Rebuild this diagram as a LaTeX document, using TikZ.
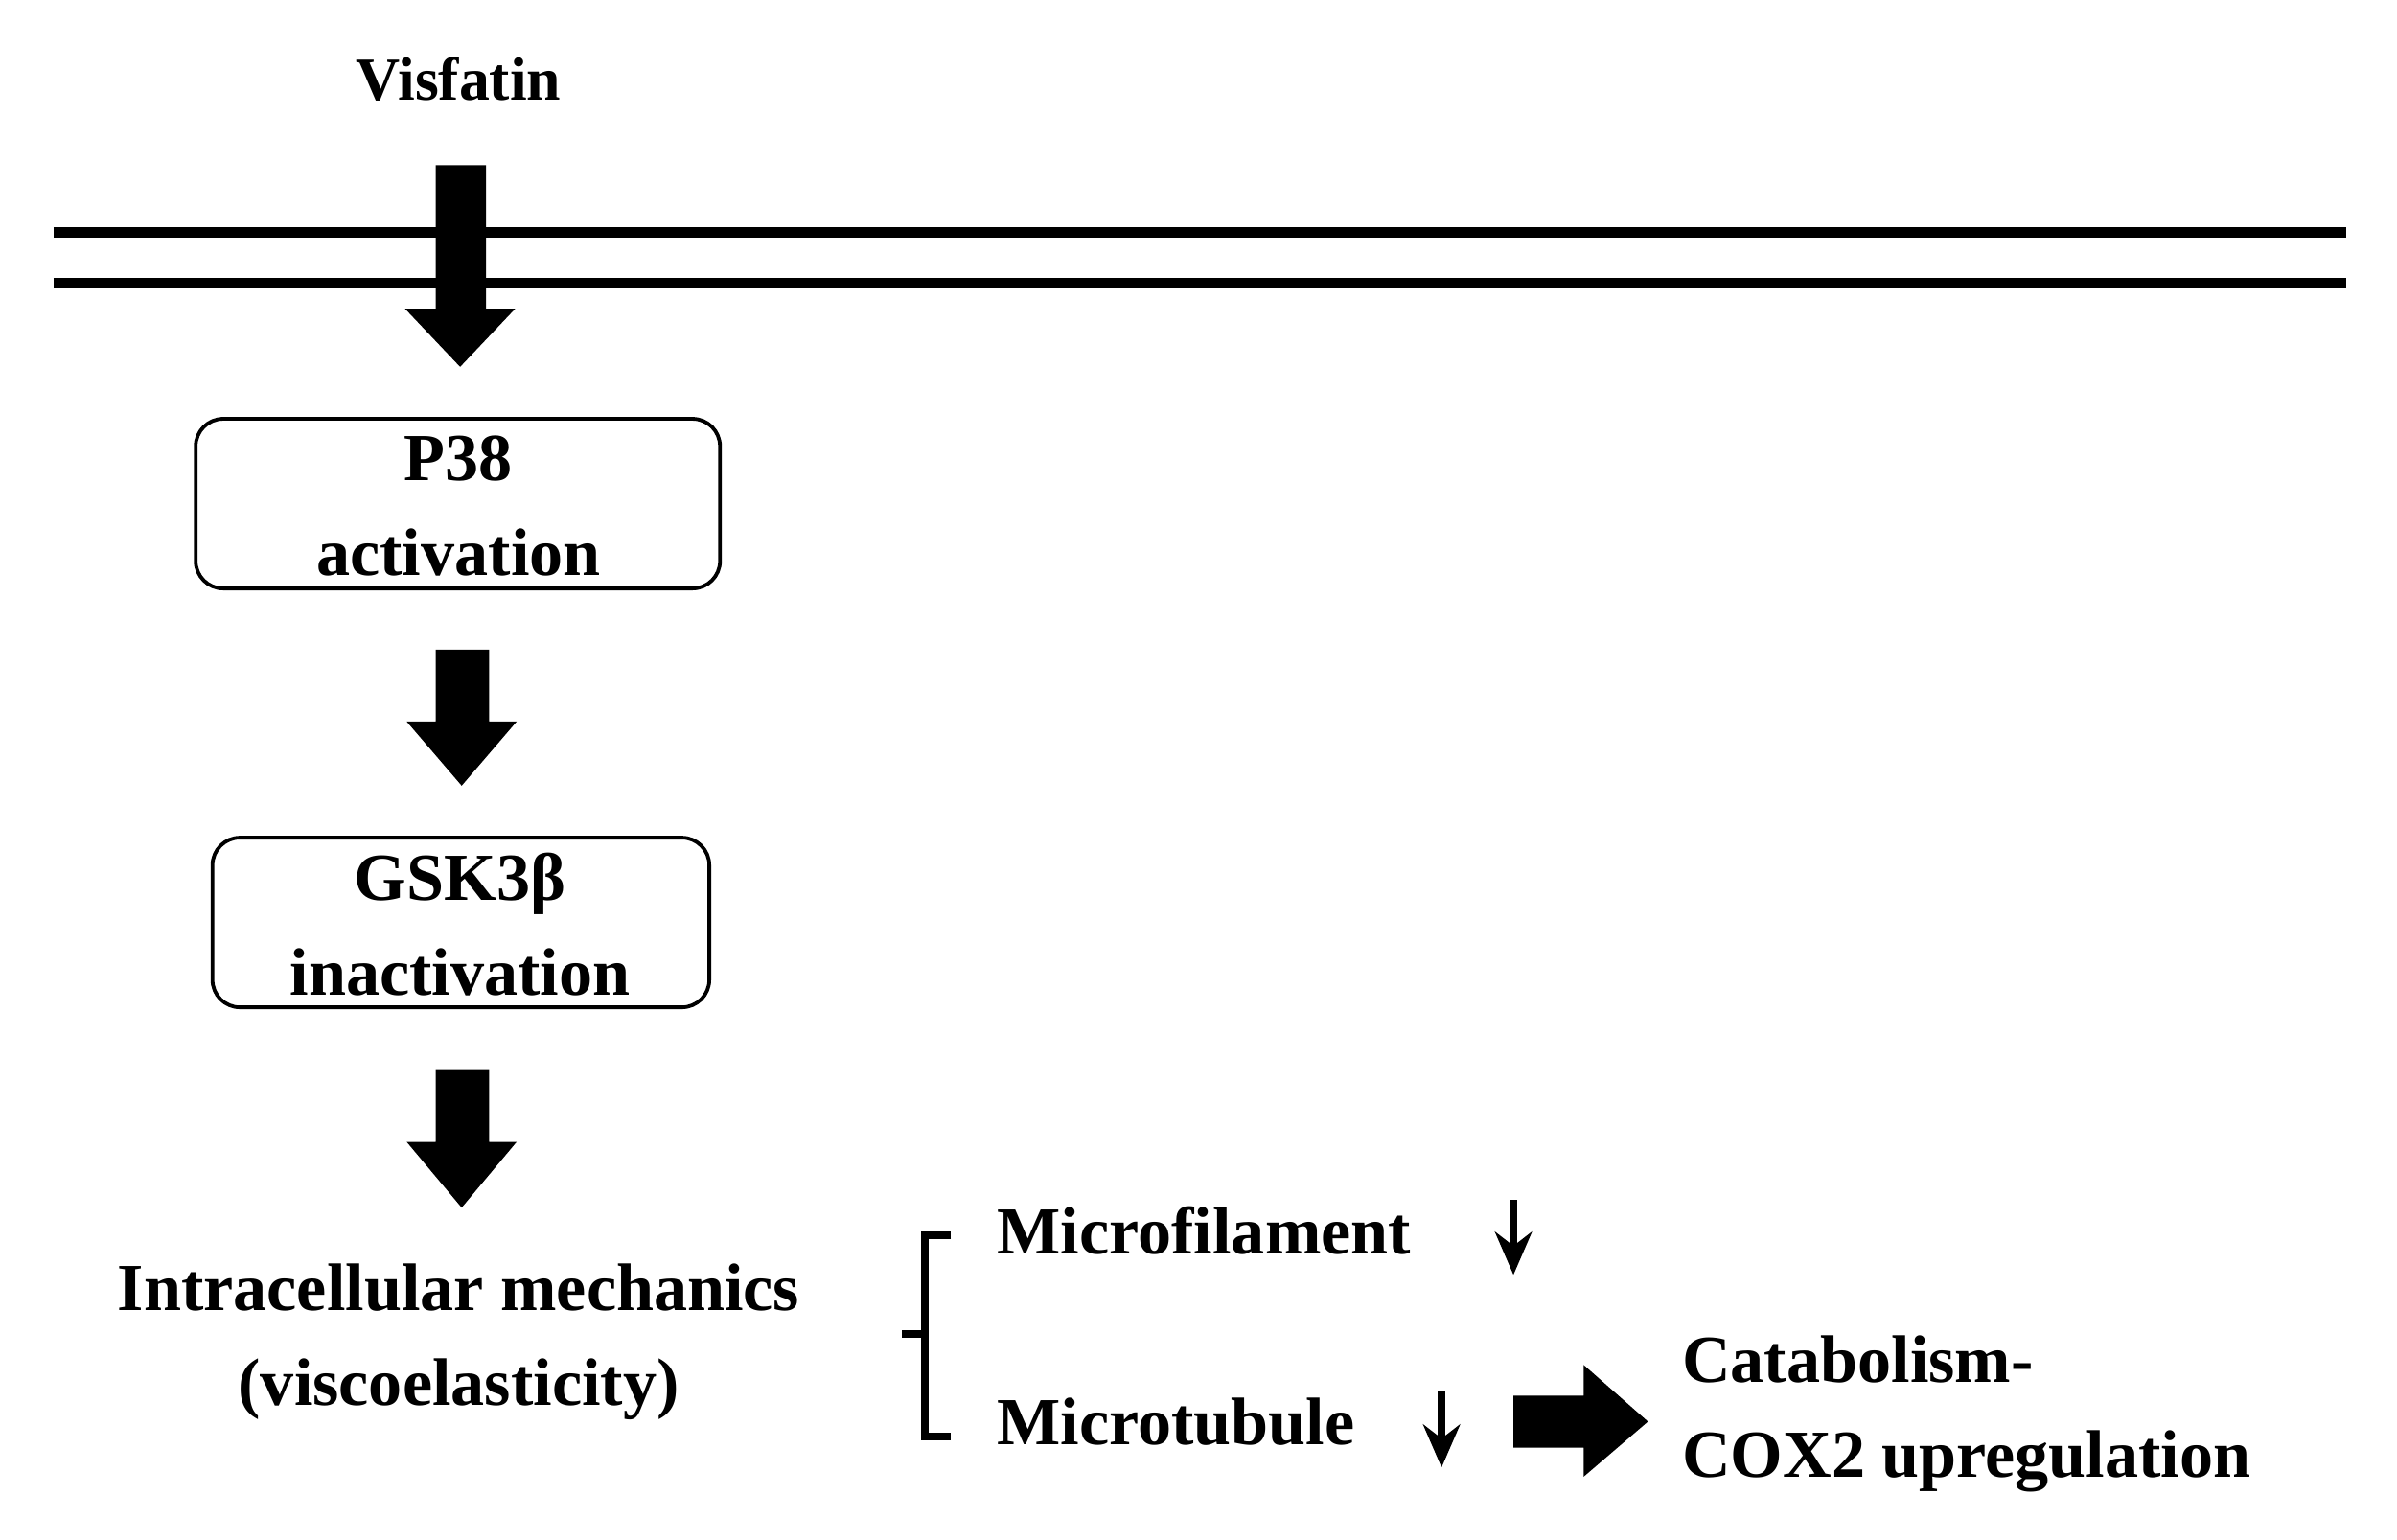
\documentclass[tikz,border=0pt]{standalone}
\usepackage{fontspec}
\setmainfont{Liberation Serif}
\usetikzlibrary{arrows.meta}
\begin{document}
\begin{tikzpicture}[x=0.5pt,y=-0.5pt,
  txt/.style={font=\fontsize{22pt}{31pt}\selectfont\bfseries, inner sep=0pt},
  box/.style={draw, line width=1.2pt, rounded corners=9pt},
  fat/.style={fill=black}]
\useasboundingbox (0,0) rectangle (1568,1007);
% membrane
\draw[line width=3.5pt] (35,152) -- (1535,152);
\draw[line width=3.5pt] (35,185) -- (1535,185);
\node[txt, font=\fontsize{20pt}{24pt}\selectfont\bfseries] (vis) at (300,52) {Visfatin};
% arrow 1
\fill (285,108) -- (318,108) -- (318,202) -- (337,202) -- (301,240) -- (265,202) -- (285,202) -- cycle;
\draw[box] (128,274) rectangle (471,385);
\node[txt, align=center] (p38) at (300,331) {P38\\activation};
% arrow 2
\fill (285,425) -- (320,425) -- (320,472) -- (338,472) -- (302,514) -- (266,472) -- (285,472) -- cycle;
\draw[box] (139,548) rectangle (464,659);
\node[txt, align=center] (gsk) at (301,605) {GSK3β\\inactivation};
% arrow 3
\fill (285,700) -- (320,700) -- (320,747) -- (338,747) -- (302,790) -- (266,747) -- (285,747) -- cycle;
\node[txt, align=center] (mech) at (300,878) {Intracellular mechanics\\(viscoelasticity)};
% brace
\draw[line width=2.5pt] (622,808) -- (605,808) -- (605,940) -- (622,940);
\draw[line width=2.5pt] (605,873) -- (590,873);
\node[txt, anchor=west] (mf) at (652,805) {Microfilament};
\draw[line width=2.5pt,-{Stealth[length=14pt,width=12pt]}] (990,785) -- (990,834);
\node[txt, anchor=west] (mt) at (652,930) {Microtubule};
\draw[line width=2.5pt,-{Stealth[length=14pt,width=12pt]}] (943,910) -- (943,960);
% right arrow
\fill (990,913) -- (1036,913) -- (1036,893) -- (1078,930) -- (1036,966) -- (1036,947) -- (990,947) -- cycle;
\node[txt, anchor=west, align=left] (cat) at (1100,925) {Catabolism-\\COX2 upregulation};
\end{tikzpicture}
\end{document}
